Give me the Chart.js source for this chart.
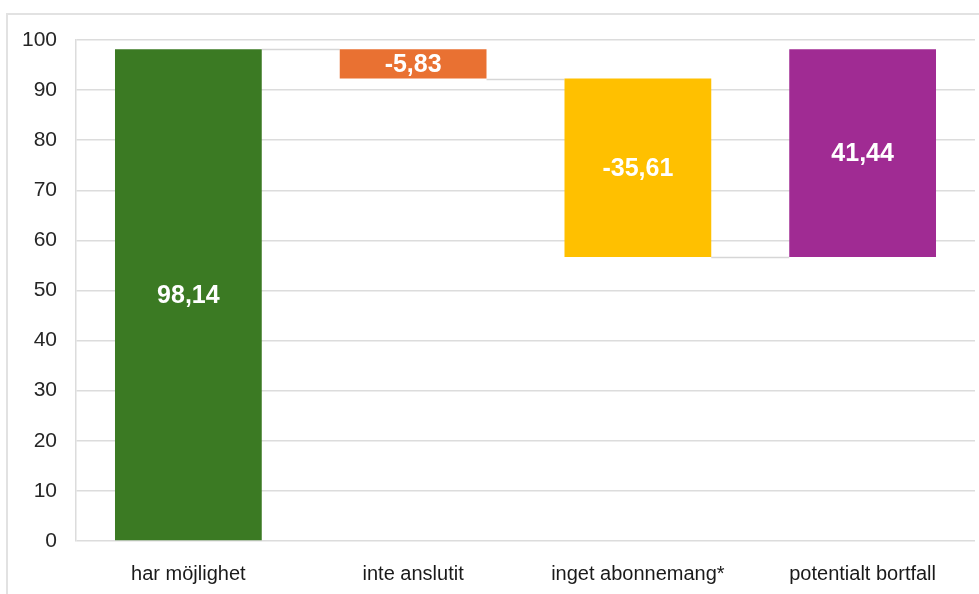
<!DOCTYPE html>
<html>
<head>
<meta charset="utf-8">
<script src="https://cdn.jsdelivr.net/npm/chart.js@4.4.1/dist/chart.umd.min.js"></script>
<style>
  html, body { margin: 0; padding: 0; background: #fff; }
  #wrap { position: relative; width: 979px; height: 594px; }
  #frame { position: absolute; left: 6px; top: 13px; right: -2px; bottom: -2px; border-left: 2px solid #e2e2e2; border-top: 2px solid #e2e2e2; }
  canvas { position: absolute; left: 0; top: 0; }
</style>
</head>
<body>
<div id="wrap">
  <div id="frame"></div>
  <canvas id="c" width="979" height="594"></canvas>
</div>
<script>
const categories = ['har möjlighet', 'inte anslutit', 'inget abonnemang*', 'potentialt bortfall'];
const changeValues = [98.14, -5.83, -35.61, 41.44];
const barLow = [0, 92.31, 56.70, 56.70];
const barHigh = [98.14, 98.14, 92.31, 98.14];
const barColors = ['#3b7a23', '#e97132', '#ffc000', '#a02b93'];
const yTicks = [0, 10, 20, 30, 40, 50, 60, 70, 80, 90, 100];

// connector levels between consecutive bars
const connectorLevels = [98.14, 92.31, 56.70];

const connectors = {
  id: 'connectors',
  beforeDatasetsDraw(chart) {
    const ctx = chart.ctx;
    const meta = chart.getDatasetMeta(0);
    const y = chart.scales.y;
    ctx.save();
    ctx.strokeStyle = '#d6d6d6';
    ctx.lineWidth = 1.5;
    for (let i = 0; i < connectorLevels.length; i++) {
      const a = meta.data[i], b = meta.data[i + 1];
      const py = Math.round(y.getPixelForValue(connectorLevels[i])) + 0.5;
      ctx.beginPath();
      ctx.moveTo(a.x + a.width / 2, py);
      ctx.lineTo(b.x - b.width / 2, py);
      ctx.stroke();
    }
    ctx.restore();
  }
};

const barLabels = {
  id: 'barLabels',
  afterDatasetsDraw(chart) {
    const ctx = chart.ctx;
    const meta = chart.getDatasetMeta(0);
    ctx.save();
    ctx.fillStyle = '#ffffff';
    ctx.font = 'bold 25px "Liberation Sans", Arial, sans-serif';
    ctx.textAlign = 'center';
    ctx.textBaseline = 'middle';
    meta.data.forEach((bar, i) => {
      const cy = (bar.y + bar.base) / 2 + 1;
      ctx.fillText(changeValues[i].toFixed(2).replace('.', ','), bar.x, cy);
    });
    ctx.restore();
  }
};

new Chart(document.getElementById('c'), {
  type: 'bar',
  data: {
    labels: categories,
    datasets: [{
      data: barLow.map((v, i) => [v, barHigh[i]]),
      backgroundColor: barColors,
      borderWidth: 0,
      barPercentage: 1,
      categoryPercentage: 0.653
    }]
  },
  options: {
    responsive: false,
    animation: false,
    devicePixelRatio: 1,
    layout: { padding: { left: 0, top: 40, right: 4, bottom: 0 } },
    plugins: { legend: { display: false }, tooltip: { enabled: false } },
    scales: {
      x: {
        grid: { display: false, drawTicks: false },
        border: { display: false },
        ticks: { color: '#1a1a1a', padding: 21, font: { family: '"Liberation Sans", Arial, sans-serif', size: 20 } },
        afterFit(s) { s.height = 53; }
      },
      y: {
        min: 0, max: 100,
        afterBuildTicks(s) { s.ticks = yTicks.map(v => ({ value: v })); },
        grid: { color: '#dcdcdc', lineWidth: 1.5, drawTicks: false },
        border: { display: true, color: '#dcdcdc', width: 1.5 },
        ticks: { color: '#262626', padding: 19, font: { family: '"Liberation Sans", Arial, sans-serif', size: 21 } },
        afterFit(s) { s.width = 76; }
      }
    }
  },
  plugins: [connectors, barLabels]
});
</script>
</body>
</html>
